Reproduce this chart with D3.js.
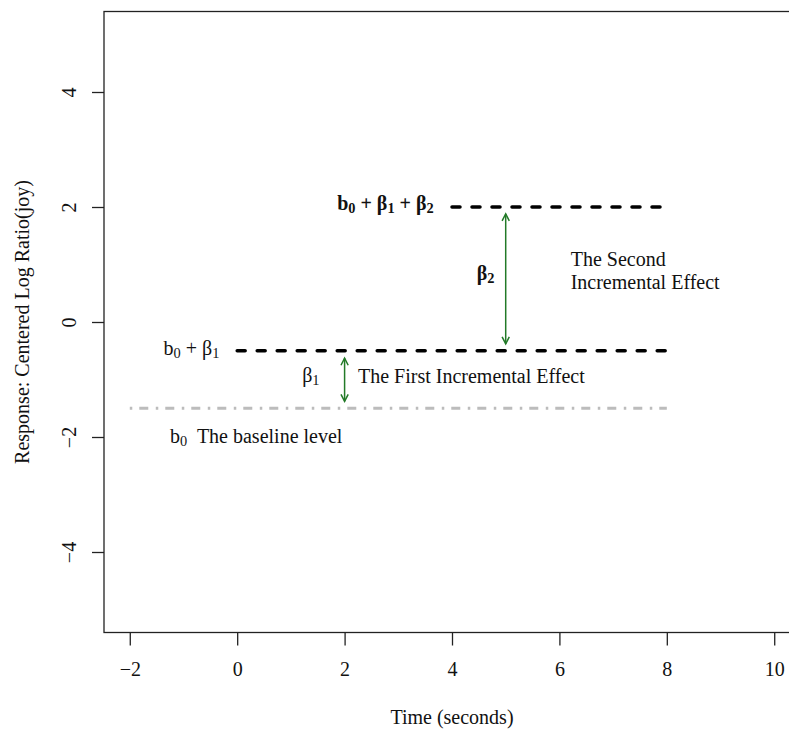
<!DOCTYPE html>
<html>
<head>
<meta charset="utf-8">
<script src="https://cdn.jsdelivr.net/npm/d3@7"></script>
<style>
  html, body { margin: 0; padding: 0; background: #fff; }
  svg { display: block; }
  text { font-family: "Liberation Serif", "Times New Roman", "DejaVu Serif", serif; fill: #111; white-space: pre; }
</style>
</head>
<body>
<svg id="chart" width="789" height="730"></svg>
<script>
// ---------------- data ----------------
const xTicks = [-2, 0, 2, 4, 6, 8, 10];
const yTicks = [-4, -2, 0, 2, 4];
const xLimits = [-2, 10];
const yLimits = [-5, 5];

const levelNames  = ["baseline", "first", "second"];
const levelValues = [-1.5, -0.5, 2];
const levelStart  = [-2, 0, 4];
const levelEnd    = [8, 8, 8];

const arrowNames = ["beta1", "beta2"];
const arrowX     = [2, 5];
const arrowFrom  = [-1.38, -0.38];
const arrowTo    = [-0.63, 1.88];

// ---------------- layout ----------------
const svg = d3.select("#chart");
const plot = { left: 104, top: 11.5, right: 800, bottom: 632.5 };

const xPad = (xLimits[1] - xLimits[0]) * 0.04;
const yPad = (yLimits[1] - yLimits[0]) * 0.04;
const x = d3.scaleLinear().domain([xLimits[0] - xPad, xLimits[1] + xPad]).range([plot.left, plot.right]);
const y = d3.scaleLinear().domain([yLimits[0] - yPad, yLimits[1] + yPad]).range([plot.bottom, plot.top]);

const FONT = 20;
const green = "#237a28";

// ---------------- axes ----------------
const fmt = d3.format("");
const xAxis = svg.append("g")
  .attr("transform", `translate(0,${plot.bottom})`)
  .call(d3.axisBottom(x).tickValues(xTicks).tickSize(13).tickFormat(fmt));
xAxis.select(".domain").remove();
xAxis.selectAll(".tick line").attr("stroke", "#222").attr("stroke-width", 1.3);
xAxis.selectAll(".tick text")
  .attr("y", 43.5).attr("dy", null)
  .style("font-size", FONT + "px").attr("fill", "#111");

const yAxis = svg.append("g")
  .attr("transform", `translate(${plot.left},0)`)
  .call(d3.axisLeft(y).tickValues(yTicks).tickSize(12).tickFormat(fmt));
yAxis.select(".domain").remove();
yAxis.selectAll(".tick line").attr("stroke", "#222").attr("stroke-width", 1.3);
yAxis.selectAll(".tick text")
  .attr("x", null).attr("dy", null)
  .attr("text-anchor", "middle")
  .attr("transform", "translate(-28,0) rotate(-90)")
  .style("font-size", FONT + "px").attr("fill", "#111");

// box
svg.append("rect")
  .attr("x", plot.left).attr("y", plot.top)
  .attr("width", plot.right - plot.left).attr("height", plot.bottom - plot.top)
  .attr("fill", "none").attr("stroke", "#222").attr("stroke-width", 1.3);

// axis titles
svg.append("text")
  .attr("x", (plot.left + plot.right) / 2).attr("y", 724)
  .attr("text-anchor", "middle").style("font-size", FONT + "px")
  .text("Time (seconds)");
svg.append("text")
  .attr("transform", `translate(29,${(plot.top + plot.bottom) / 2}) rotate(-90)`)
  .attr("text-anchor", "middle").style("font-size", FONT + "px")
  .text("Response: Centered Log Ratio(joy)");

// ---------------- level lines ----------------
const levelStyle = {
  baseline: { stroke: "#bcbcbc", width: 3, dash: "2.5,7,9,7.5", cap: "butt" },
  first:    { stroke: "#000",    width: 3.5, dash: "8,12", cap: "round" },
  second:   { stroke: "#000",    width: 3.5, dash: "8,12", cap: "round" }
};
levelNames.forEach((n, i) => {
  const s = levelStyle[n];
  svg.append("line")
    .attr("x1", x(levelStart[i])).attr("x2", x(levelEnd[i]))
    .attr("y1", y(levelValues[i])).attr("y2", y(levelValues[i]))
    .attr("stroke", s.stroke).attr("stroke-width", s.width)
    .attr("stroke-dasharray", s.dash).attr("stroke-linecap", s.cap);
});

// ---------------- arrows ----------------
function head(px, py, dir) { // dir: -1 pointing up, +1 pointing down
  const L = 7, hw = 3.6;
  return `M${px - hw},${py - dir * L}L${px},${py}L${px + hw},${py - dir * L}`;
}
arrowNames.forEach((n, i) => {
  const px = x(arrowX[i]);
  const yA = y(arrowFrom[i]), yB = y(arrowTo[i]);
  svg.append("line")
    .attr("x1", px).attr("x2", px).attr("y1", yA).attr("y2", yB)
    .attr("stroke", green).attr("stroke-width", 1.5);
  svg.append("path").attr("d", head(px, yA, +1))
    .attr("fill", "none").attr("stroke", green).attr("stroke-width", 1.5);
  svg.append("path").attr("d", head(px, yB, -1))
    .attr("fill", "none").attr("stroke", green).attr("stroke-width", 1.5);
});

// ---------------- annotations ----------------
function mathText(px, py, segs, opts = {}) {
  const t = svg.append("text")
    .attr("x", px).attr("y", py)
    .attr("text-anchor", opts.anchor || "start")
    .style("font-size", FONT + "px")
    .style("font-weight", opts.bold ? "bold" : "normal");
  let shifted = false;
  segs.forEach(([s, sub]) => {
    const ts = t.append("tspan").text(s);
    if (sub && !shifted) { ts.attr("dy", 3).style("font-size", (FONT * 0.72) + "px"); shifted = true; }
    else if (sub) { ts.style("font-size", (FONT * 0.72) + "px"); }
    else if (!sub && shifted) { ts.attr("dy", -3); shifted = false; }
  });
  return t;
}

mathText(x(3.66), y(2) + 3, [["b", false], ["0", true], [" + β", false], ["1", true], [" + β", false], ["2", true]], { anchor: "end", bold: true });
mathText(x(-1.37), y(-0.5) + 4, [["b", false], ["0", true], [" + β", false], ["1", true]]);
mathText(x(1.21), y(-0.5) + 31, [["β", false], ["1", true]]);
mathText(x(2.25), y(-0.5) + 32, [["The First Incremental Effect", false]]);
mathText(x(-1.25), y(-1.5) + 35, [["b", false], ["0", true], ["  The baseline level", false]]);
mathText(x(4.46), y(0.8) + 4, [["β", false], ["2", true]], { bold: true });
mathText(x(6.21), y(1.1) + 7, [["The Second", false]]);
mathText(x(6.21), y(1.1) + 30, [["Incremental Effect", false]]);
</script>
</body>
</html>
